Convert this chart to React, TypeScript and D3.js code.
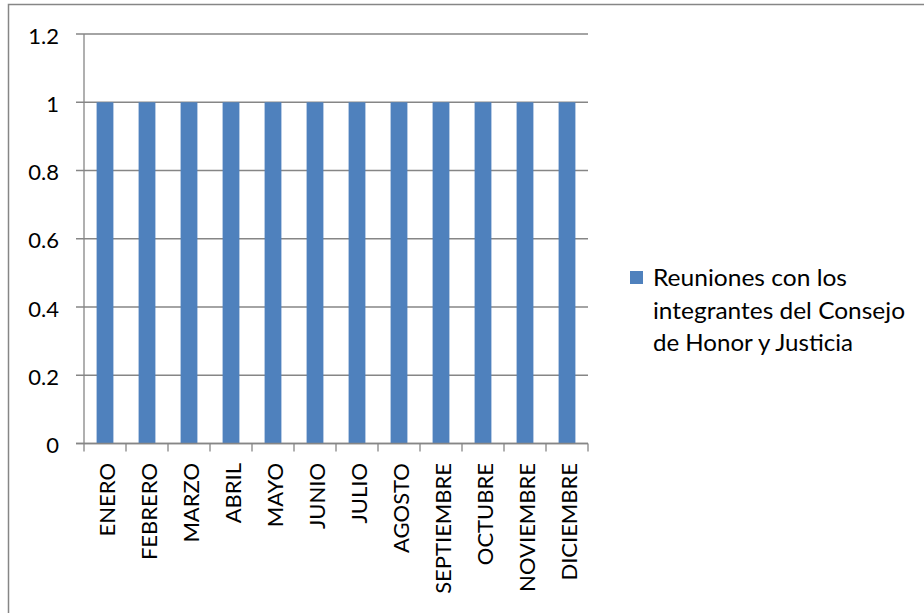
import React from "react";
import * as d3 from "d3";

const categories = ["ENERO","FEBRERO","MARZO","ABRIL","MAYO","JUNIO","JULIO","AGOSTO","SEPTIEMBRE","OCTUBRE","NOVIEMBRE","DICIEMBRE"];
const values = [1,1,1,1,1,1,1,1,1,1,1,1];
const yTicks = [0, 0.2, 0.4, 0.6, 0.8, 1, 1.2];
const seriesName = "Reuniones con los integrantes del Consejo de Honor y Justicia";
const legendLines = ["Reuniones con los", "integrantes del Consejo", "de Honor y Justicia"];
const legendWidths = [194, 252, 200];

export default function App() {
  const W = 924, H = 613;
  const left = 84, right = 588, top = 34, bottom = 443.5;
  const x = d3.scaleBand<string>().domain(categories).range([left, right]).paddingInner(0.6).paddingOuter(0.3);
  const xb = d3.scaleBand<string>().domain(categories).range([left, right]);
  const y = d3.scaleLinear().domain([0, 1.2]).range([bottom, top]);
  const grid = "#868686";
  const blue = "#4F81BD";
  const font = "Lato, 'Open Sans', sans-serif";
  const boundaries = categories.map(c => xb(c)!).concat([right]);
  return (
    <svg width={W} height={H} style={{ position: "absolute", left: 0, top: 0, background: "#fff" }}>
      <rect x={8.5} y={4.5} width={W + 20} height={H + 20} fill="#fff" stroke={grid} strokeWidth={1.5} />
      {yTicks.map(t => (
        <g key={t}>
          <line x1={left - 8} x2={right} y1={y(t)} y2={y(t)} stroke={grid} strokeWidth={1.3} />
          <text x={59} y={y(t) + 1} textAnchor="end" dominantBaseline="central" fontFamily={font} fontSize={22} fill="#000">{String(t)}</text>
        </g>
      ))}
      {categories.map((c, i) => (
        <rect key={c} x={x(c)} y={y(values[i])} width={x.bandwidth()} height={y(0) - y(values[i])} fill={blue} />
      ))}
      <line x1={left} x2={left} y1={top} y2={bottom} stroke={grid} strokeWidth={1.3} />
      <line x1={left - 8} x2={right} y1={bottom} y2={bottom} stroke={grid} strokeWidth={1.3} />
      {boundaries.map((b, i) => (
        <line key={i} x1={b} x2={b} y1={bottom} y2={bottom + 8} stroke={grid} strokeWidth={1.3} />
      ))}
      {categories.map(c => {
        const cx = xb(c)! + xb.bandwidth() / 2;
        return (
          <text key={c} transform={`translate(${cx + 1},463) rotate(-90)`} textAnchor="end" dominantBaseline="central" fontFamily={font} fontSize={22} fill="#000">{c}</text>
        );
      })}
      <g>
        <title>{seriesName}</title>
        <rect x={630} y={271} width={13} height={13} fill={blue} />
        {legendLines.map((l, i) => (
          <text key={i} x={653} y={286 + i * 32.5} fontFamily={font} fontSize={23} fill="#000" textLength={legendWidths[i]} lengthAdjust="spacingAndGlyphs">{l}</text>
        ))}
      </g>
    </svg>
  );
}
